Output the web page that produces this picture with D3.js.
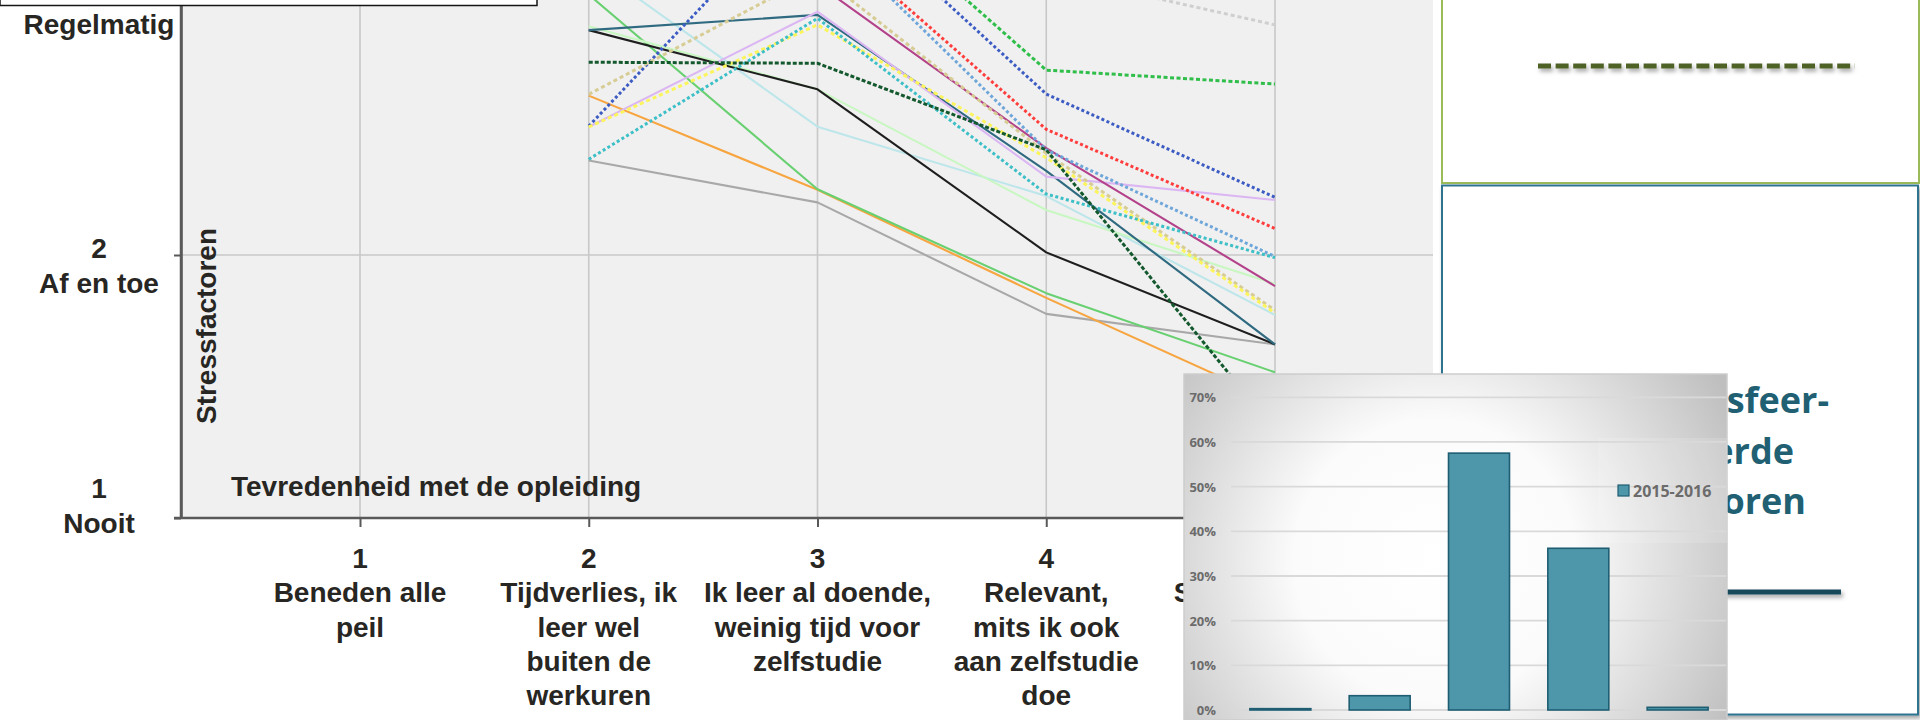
<!DOCTYPE html>
<html><head><meta charset="utf-8">
<script src="https://cdn.jsdelivr.net/npm/d3@7"></script>
<style>
html,body{margin:0;padding:0;background:#fff;overflow:hidden;}
svg{display:block;}
</style></head>
<body>
<svg id="c" width="1920" height="720"></svg>
<script>
// ---------- data: main line chart ----------
const categories = [1, 2, 3, 4, 5];
const categoryLabels = [
  ["1", "Beneden alle", "peil"],
  ["2", "Tijdverlies, ik", "leer wel", "buiten de", "werkuren"],
  ["3", "Ik leer al doende,", "weinig tijd voor", "zelfstudie"],
  ["4", "Relevant,", "mits ik ook", "aan zelfstudie", "doe"],
  ["5", "Stimulerend en", "uitdagend"]
];
const yTicks = [1, 2, 3];
const yTickLabels = [["1", "Nooit"], ["2", "Af en toe"], ["3", "Regelmatig"]];
const xTitle = "Tevredenheid met de opleiding";
const yTitle = "Stressfactoren";

// one array per respondent line (value per category 1..5; null = no visible point)
const lineBlack       = [null, 2.855, 2.630, 2.010, 1.660];
const lineTeal        = [null, 2.855, 2.913, 2.320, 1.660];
const lineGreen       = [null, 2.990, 2.250, 1.855, 1.554];
const lineOrange      = [null, 2.606, 2.248, 1.837, 1.443];
const lineGray        = [null, 2.359, 2.200, 1.776, 1.660];
const lineLightCyan   = [null, 3.110, 2.488, 2.224, 1.772];
const linePaleGreen   = [null, 2.870, 2.630, 2.171, 1.890];
const lineMagenta     = [null, null,  3.030, 2.406, 1.882];
const lineLavender    = [null, 2.487, 2.925, 2.298, 2.209];
const dotYellow       = [null, 2.487, 2.875, 2.370, 1.780];
const dotTeal         = [null, 2.364, 2.900, 2.232, 1.990];
const dotDarkGreen    = [null, 2.733, 2.729, 2.400, 1.335];
const dotBeige        = [null, 2.611, 3.070, 2.387, 1.790];
const dotBlue         = [null, 2.490, 3.410, 2.612, 2.219];
const dotRed          = [null, null,  3.240, 2.478, 2.101];
const dotLightBlue    = [null, null,  3.250, 2.400, 1.994];
const dotBrightGreen  = [null, null,  3.470, 2.703, 2.650];
const dotLightGray    = [null, null,  null,  3.070, 2.875];

// ---------- data: overlaid bar chart ----------
const barCategories = ["1", "2", "3", "4", "5"];
const barValues = [0.003, 0.032, 0.575, 0.362, 0.006];
const barTicks = [0, 0.1, 0.2, 0.3, 0.4, 0.5, 0.6, 0.7];
const barSeriesName = "2015-2016";

// ---------- panel text ----------
const panelLines = ["Werksfeer-", "gerelateerde", "stressfactoren"];

// ---------- styling table ----------
const series = [
  {v: lineGray, c: "#a8a8a8", d: null},
  {v: lineOrange, c: "#f7a540", d: null},
  {v: lineGreen, c: "#68d070", d: null},
  {v: lineLightCyan, c: "#bde6ea", d: null},
  {v: linePaleGreen, c: "#c8f7c2", d: null},
  {v: lineBlack, c: "#1e1e1e", d: null},
  {v: lineTeal, c: "#2f6a80", d: null},
  {v: lineLavender, c: "#dbb6f3", d: null},
  {v: lineMagenta, c: "#b3428a", d: null},
  {v: dotLightGray, c: "#cfcfcf", d: "4,3"},
  {v: dotBrightGreen, c: "#2fbe49", d: "4,2.5"},
  {v: dotBlue, c: "#3c5cc4", d: "3,2.5"},
  {v: dotRed, c: "#ff3d3d", d: "3,2.5"},
  {v: dotLightBlue, c: "#6ea6da", d: "3,2.5"},
  {v: dotBeige, c: "#d6cc94", d: "4,3"},
  {v: dotYellow, c: "#fbf45a", d: "4,3"},
  {v: dotTeal, c: "#3cbfc6", d: "3,2.5"},
  {v: dotDarkGreen, c: "#14592e", d: "4,2"}
];

const svg = d3.select("#c");
const defs = svg.append("defs");

// layout
const plotL = 181, plotR = 1433, plotT = -20, plotB = 518;
const x = d3.scaleLinear().domain([1, 5]).range([360, 1275]);
const y = d3.scaleLinear().domain([1, 3]).range([518, -8]);

defs.append("clipPath").attr("id", "plotClip")
  .append("rect").attr("x", plotL).attr("y", plotT).attr("width", plotR - plotL).attr("height", plotB - plotT);

const sh = defs.append("filter").attr("id", "shadow").attr("filterUnits", "userSpaceOnUse")
  .attr("x", 0).attr("y", -20).attr("width", 1920).attr("height", 760);
sh.append("feDropShadow").attr("dx", 2).attr("dy", 3).attr("stdDeviation", 2).attr("flood-color", "#000").attr("flood-opacity", 0.35);

const rg = defs.append("radialGradient").attr("id", "barBg").attr("gradientUnits", "userSpaceOnUse")
  .attr("cx", 1435).attr("cy", 560).attr("r", 335);
rg.append("stop").attr("offset", "0").attr("stop-color", "#ffffff");
rg.append("stop").attr("offset", "0.42").attr("stop-color", "#fbfbfb");
rg.append("stop").attr("offset", "1").attr("stop-color", "#bfbfbf");

// plot background
svg.append("rect").attr("x", plotL).attr("y", plotT).attr("width", plotR - plotL).attr("height", plotB - plotT).attr("fill", "#f0f0f0");

// grid
const grid = svg.append("g");
grid.selectAll("line.v").data(categories).join("line")
  .attr("x1", d => x(d)).attr("x2", d => x(d)).attr("y1", plotT).attr("y2", plotB)
  .attr("stroke", "#c8c8c8").attr("stroke-width", 1.6);
grid.selectAll("line.h").data(yTicks.filter(t => t > 1)).join("line")
  .attr("x1", plotL).attr("x2", plotR).attr("y1", d => y(d)).attr("y2", d => y(d))
  .attr("stroke", "#c8c8c8").attr("stroke-width", 1.6);

// lines
const lineGen = d3.line().defined(d => d[1] != null).x(d => x(d[0])).y(d => y(d[1]));
const lg = svg.append("g").attr("clip-path", "url(#plotClip)");
series.forEach(s => {
  lg.append("path")
    .attr("d", lineGen(categories.map((c, i) => [c, s.v[i]])))
    .attr("fill", "none").attr("stroke", s.c)
    .attr("stroke-width", s.d ? 3 : 2.1)
    .attr("stroke-dasharray", s.d)
    .attr("stroke-linejoin", "round");
});

// axes
const yAxis = svg.append("g").attr("transform", `translate(${plotL},0)`)
  .call(d3.axisLeft(y).tickValues(yTicks).tickSize(7).tickSizeOuter(0).tickFormat(""));
yAxis.select(".domain").attr("stroke", "#595959").attr("stroke-width", 2.5);
yAxis.selectAll(".tick line").attr("stroke", "#595959").attr("stroke-width", 2);
svg.append("line").attr("x1", plotL).attr("x2", plotL).attr("y1", plotT).attr("y2", plotB)
  .attr("stroke", "#595959").attr("stroke-width", 2.5);

const xAxis = svg.append("g").attr("transform", `translate(0,${plotB})`)
  .call(d3.axisBottom(x).tickValues(categories).tickSize(9).tickSizeOuter(0).tickFormat(""));
xAxis.select(".domain").remove();
xAxis.selectAll(".tick line").attr("stroke", "#595959").attr("stroke-width", 2);
svg.append("line").attr("x1", plotL - 7).attr("x2", plotR).attr("y1", plotB).attr("y2", plotB)
  .attr("stroke", "#595959").attr("stroke-width", 2.5);

// text styling
const font = "'Liberation Sans', Arial, Helvetica, sans-serif";
const txtCol = "#272623";

// x category labels
const lineH = 34.3;
categoryLabels.forEach((lines, i) => {
  const t = svg.append("text").attr("text-anchor", "middle")
    .attr("font-family", font).attr("font-weight", "bold").attr("font-size", 28).attr("fill", txtCol);
  lines.forEach((ln, j) => {
    t.append("tspan").attr("x", x(categories[i])).attr("y", plotB + 50 + j * lineH).text(ln);
  });
});

// y tick labels
const yLabelShift = [-20, 3, 7];
yTickLabels.forEach((lines, i) => {
  const t = svg.append("text").attr("text-anchor", "middle")
    .attr("font-family", font).attr("font-weight", "bold").attr("font-size", 28).attr("fill", txtCol);
  lines.forEach((ln, j) => {
    t.append("tspan").attr("x", 99).attr("y", y(yTicks[i]) + yLabelShift[i] + j * 34.5).text(ln);
  });
});

// axis titles
svg.append("text").attr("x", 231).attr("y", 496)
  .attr("font-family", font).attr("font-weight", "bold").attr("font-size", 28).attr("fill", txtCol)
  .text(xTitle);
svg.append("text").attr("transform", "translate(216,326) rotate(-90)").attr("text-anchor", "middle")
  .attr("font-family", font).attr("font-weight", "bold").attr("font-size", 28).attr("fill", txtCol)
  .text(yTitle);

// top-left box edge
svg.append("rect").attr("x", 0).attr("y", -10).attr("width", 537).attr("height", 15.5)
  .attr("fill", "#fff").attr("stroke", "#151515").attr("stroke-width", 1.5);

// ---------- right panels ----------
svg.append("rect").attr("x", 1442).attr("y", -10).attr("width", 477).attr("height", 193)
  .attr("fill", "#fff").attr("stroke", "#9bbb59").attr("stroke-width", 2);
svg.append("line").attr("x1", 1538).attr("x2", 1855).attr("y1", 66).attr("y2", 66)
  .attr("stroke", "#4f6228").attr("stroke-width", 5).attr("stroke-dasharray", "13,4.6")
  .attr("filter", "url(#shadow)");

svg.append("rect").attr("x", 1442).attr("y", 185.5).attr("width", 476).attr("height", 529)
  .attr("fill", "#fff").attr("stroke", "#2e7390").attr("stroke-width", 2)
  .attr("filter", "url(#shadow)");

const panelRight = [1829, 1794, 1806];
const pt = svg.append("text").attr("text-anchor", "end")
  .attr("font-family", "'Open Sans', 'Noto Sans', sans-serif").attr("font-weight", "bold")
  .attr("font-size", 36).attr("fill", "#215f73");
panelLines.forEach((ln, i) => {
  pt.append("tspan").attr("x", panelRight[i]).attr("y", 413 + i * 50.5).text(ln);
});
svg.append("line").attr("x1", 1500).attr("x2", 1841).attr("y1", 592).attr("y2", 592)
  .attr("stroke", "#17485a").attr("stroke-width", 5).attr("filter", "url(#shadow)");

// ---------- overlaid bar chart ----------
const bc = svg.append("g");
bc.append("rect").attr("x", 1184).attr("y", 374).attr("width", 543).attr("height", 346)
  .attr("fill", "url(#barBg)").attr("stroke", "#cdcdcd").attr("stroke-width", 1.5);

const bx = d3.scaleBand().domain(barCategories).range([1231, 1727]).paddingInner(0.386).paddingOuter(0.19);
const by = d3.scaleLinear().domain([0, 0.7]).range([710, 397.3]);

bc.append("rect").attr("x", 1598).attr("y", 438).attr("width", 129).attr("height", 105)
  .attr("fill", "#fff").attr("fill-opacity", 0.14);

bc.selectAll("line.g").data(barTicks).join("line")
  .attr("x1", 1231).attr("x2", 1726).attr("y1", d => by(d)).attr("y2", d => by(d))
  .attr("stroke", "#d9d9d9").attr("stroke-width", 1.8);

const byAxis = bc.append("g").attr("transform", "translate(1216,0)")
  .call(d3.axisLeft(by).tickValues(barTicks).tickSize(0).tickFormat(d3.format(".0%")));
byAxis.select(".domain").remove();
byAxis.selectAll("text").attr("x", 0).attr("dy", "0.35em")
  .attr("font-family", "'Open Sans', 'Noto Sans', sans-serif").attr("font-weight", "bold")
  .attr("font-size", 13).attr("fill", "#6b6b6b");

bc.selectAll("rect.bar").data(barValues).join("rect")
  .attr("x", (d, i) => bx(barCategories[i])).attr("width", bx.bandwidth())
  .attr("y", d => by(d)).attr("height", d => by(0) - by(d))
  .attr("fill", "#4e96aa").attr("stroke", "#1f5e72").attr("stroke-width", 1.6);

// legend
bc.append("rect").attr("x", 1618).attr("y", 485).attr("width", 11).attr("height", 11)
  .attr("fill", "#4e96aa").attr("stroke", "#1f5e72").attr("stroke-width", 1.2);
bc.append("text").attr("x", 1633).attr("y", 496.5)
  .attr("font-family", "'Open Sans', 'Noto Sans', sans-serif").attr("font-weight", "bold")
  .attr("font-size", 16).attr("fill", "#6b6b6b").text(barSeriesName);
</script>
</body></html>
